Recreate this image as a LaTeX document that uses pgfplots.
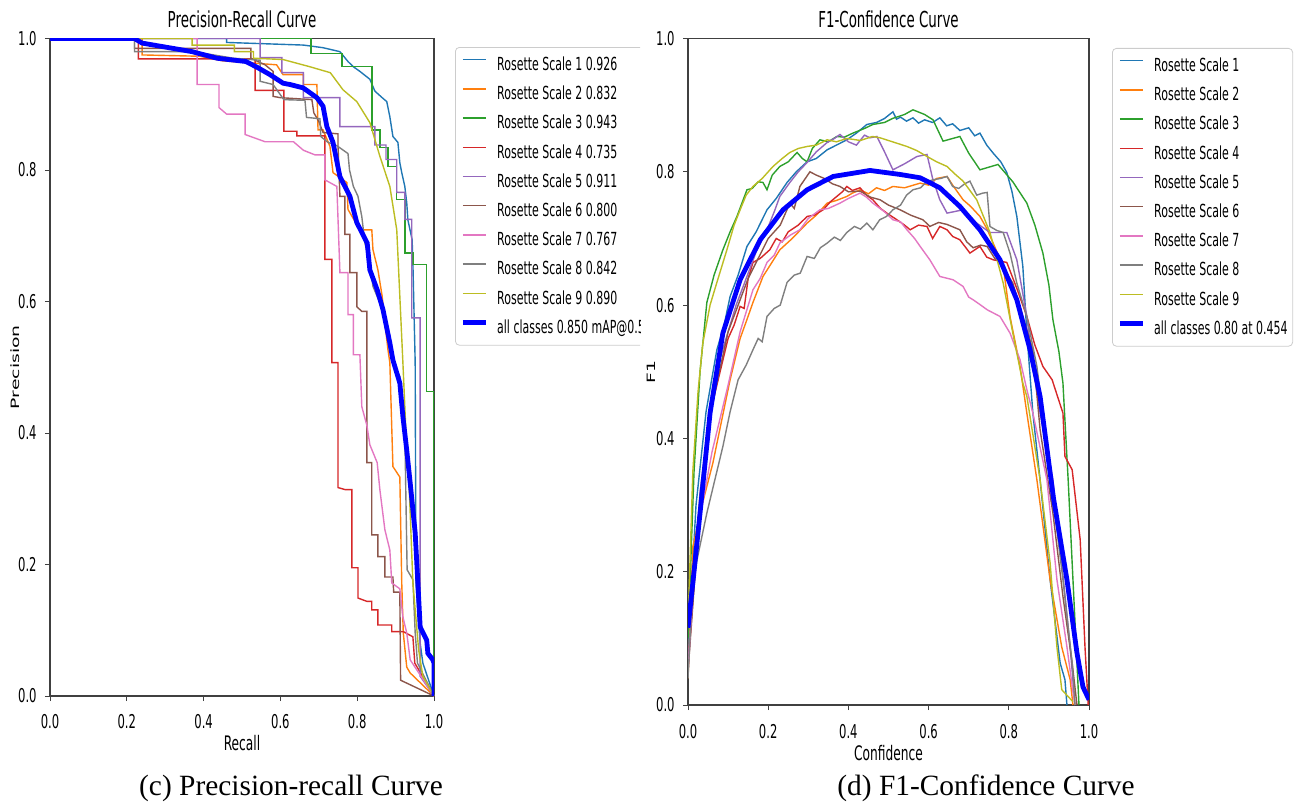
\documentclass[border=0pt]{standalone}
\usepackage{fontspec}
\setmainfont{Liberation Serif}
\newfontfamily\mpl{DejaVu Sans}[FakeStretch=0.61]
\newfontfamily\mplr{DejaVu Sans}
\usepackage{graphicx}
\usepackage{pgfplots}
\pgfplotsset{compat=1.18}
\definecolor{t1}{HTML}{1F77B4}
\definecolor{t2}{HTML}{FF7F0E}
\definecolor{t3}{HTML}{2CA02C}
\definecolor{t4}{HTML}{D62728}
\definecolor{t5}{HTML}{9467BD}
\definecolor{t6}{HTML}{8C564B}
\definecolor{t7}{HTML}{E377C2}
\definecolor{t8}{HTML}{7F7F7F}
\definecolor{t9}{HTML}{BCBD22}
\definecolor{allc}{RGB}{0,0,255}
\newcommand\tkf{\mpl\fontsize{9.5}{11}\selectfont}
\newcommand\ttlf{\mpl\fontsize{11}{13}\selectfont}
\newcommand\lblf{\mpl\fontsize{10}{12}\selectfont}
\newcommand\lgdf{\mpl\fontsize{9}{11}\selectfont}
\pgfplotsset{
  mplax/.style={
    scale only axis, xmin=0, xmax=1, ymin=0, ymax=1,
    xtick={0,0.2,0.4,0.6,0.8,1}, ytick={0,0.2,0.4,0.6,0.8,1},
    xtick pos=bottom, ytick pos=left,
    /pgf/number format/fixed, /pgf/number format/fixed zerofill,
    /pgf/number format/precision=1, /pgf/number format/assume math mode=true,
    tick label style={font=\tkf},
    yticklabel style={anchor=east, inner sep=0pt, xshift=-4pt},
    tick align=outside, major tick length=2.5pt,
    tick style={black!75, line width=0.5pt},
    axis line style={black!75, line width=0.6pt},
    every axis title shift=0pt,
    title style={font=\ttlf, at={(axis description cs:0.5,1)}, anchor=base, yshift=5.5pt},
    xlabel style={font=\lblf, at={(axis description cs:0.5,0)}, anchor=base},
    ylabel style={font=\mplr\fontsize{9.4}{11}\selectfont, anchor=base},
    legend cell align=left,
    legend style={font=\lgdf, draw=black!20, rounded corners=2pt, fill=white,
      inner xsep=2.5pt, inner ysep=4pt, row sep=5.1pt, /tikz/column sep=4.5pt,
      nodes={inner sep=0pt, text height=7.5pt, text depth=2pt}},
    legend image code/.code={\draw[##1] (0pt,2.6pt) -- (11.5pt,2.6pt);},
  },
  cls/.style={line width=0.7pt},
  allcls/.style={allc, line width=2.4pt},
}
\begin{document}
\begin{tikzpicture}
\useasboundingbox (0,0) rectangle (650.5pt,402.5pt);
\begin{scope}
\clip (0,0) rectangle (320pt,402.5pt);
\begin{axis}[mplax, at={(25pt,54.5pt)}, anchor=south west,
  width=192pt, height=328.75pt,
  title={Precision-Recall Curve},
  xlabel={Recall}, ylabel={\scalebox{1}[0.61]{Precision}},
  xticklabel style={anchor=base, yshift=-13.5pt},
  xlabel style={yshift=-27pt},
  ylabel style={at={([xshift=-15.25pt]axis description cs:0,0.5)}},
  legend style={at={(axis description cs:1,1)}, anchor=north west, xshift=10.5pt, yshift=-4.25pt}]
\addplot[t1, cls] coordinates {(0,1) (0.46,1) (0.46,0.994) (0.66,0.99) (0.711,0.986) (0.755,0.98) (0.776,0.965) (0.79,0.957) (0.807,0.95) (0.833,0.938) (0.846,0.92) (0.865,0.91) (0.877,0.904) (0.885,0.881) (0.893,0.851) (0.906,0.842) (0.911,0.811) (0.916,0.796) (0.924,0.775) (0.929,0.75) (0.932,0.724) (0.943,0.694) (0.945,0.659) (0.951,0.507) (0.953,0.172) (0.964,0.08) (0.971,0.05) (1,0)};
\addplot[t2, cls] coordinates {(0,1) (0.24,1) (0.24,0.975) (0.39,0.973) (0.45,0.966) (0.59,0.96) (0.607,0.945) (0.66,0.945) (0.66,0.93) (0.695,0.93) (0.698,0.861) (0.711,0.861) (0.729,0.836) (0.737,0.796) (0.773,0.781) (0.776,0.74) (0.807,0.709) (0.838,0.709) (0.841,0.679) (0.854,0.648) (0.865,0.608) (0.872,0.568) (0.88,0.527) (0.885,0.507) (0.893,0.349) (0.911,0.333) (0.916,0.172) (0.92,0.096) (0.929,0.044) (0.938,0.035) (1,0)};
\addplot[t3, cls] coordinates {(0,1) (0.68,1) (0.68,0.977) (0.76,0.977) (0.76,0.957) (0.839,0.957) (0.839,0.861) (0.859,0.861) (0.859,0.834) (0.88,0.834) (0.88,0.805) (0.903,0.805) (0.903,0.755) (0.924,0.755) (0.924,0.674) (0.945,0.674) (0.945,0.656) (0.98,0.656) (0.98,0.463) (1,0.463) (1,0)};
\addplot[t4, cls] coordinates {(0,1) (0.23,1) (0.23,0.969) (0.534,0.969) (0.534,0.921) (0.609,0.921) (0.609,0.859) (0.643,0.859) (0.643,0.852) (0.716,0.852) (0.716,0.664) (0.734,0.664) (0.734,0.507) (0.75,0.507) (0.75,0.317) (0.768,0.314) (0.786,0.314) (0.786,0.195) (0.802,0.195) (0.802,0.149) (0.825,0.144) (0.838,0.144) (0.838,0.131) (0.854,0.131) (0.854,0.108) (0.89,0.108) (0.89,0.098) (0.92,0.098) (0.945,0.09) (0.95,0.05) (1,0)};
\addplot[t5, cls] coordinates {(0,1) (0.547,1) (0.547,0.971) (0.604,0.971) (0.604,0.948) (0.66,0.948) (0.66,0.91) (0.755,0.91) (0.755,0.866) (0.846,0.866) (0.846,0.838) (0.875,0.838) (0.875,0.816) (0.903,0.816) (0.903,0.766) (0.924,0.766) (0.924,0.725) (0.942,0.725) (0.942,0.575) (0.964,0.575) (0.964,0.03) (1,0)};
\addplot[t6, cls] coordinates {(0,1) (0.22,1) (0.22,0.985) (0.523,0.985) (0.523,0.97) (0.56,0.96) (0.581,0.95) (0.581,0.912) (0.6,0.91) (0.682,0.907) (0.687,0.887) (0.7,0.874) (0.711,0.857) (0.75,0.855) (0.75,0.838) (0.755,0.76) (0.768,0.76) (0.768,0.702) (0.781,0.702) (0.781,0.644) (0.799,0.644) (0.799,0.592) (0.812,0.585) (0.825,0.585) (0.825,0.355) (0.838,0.355) (0.838,0.245) (0.854,0.245) (0.854,0.212) (0.872,0.212) (0.872,0.181) (0.893,0.181) (0.895,0.158) (0.911,0.158) (0.913,0.024) (1,0)};
\addplot[t7, cls] coordinates {(0,1) (0.383,1) (0.383,0.93) (0.44,0.93) (0.44,0.895) (0.46,0.885) (0.508,0.885) (0.508,0.854) (0.56,0.843) (0.634,0.843) (0.66,0.83) (0.69,0.823) (0.716,0.823) (0.716,0.785) (0.747,0.775) (0.755,0.644) (0.776,0.644) (0.776,0.58) (0.79,0.58) (0.79,0.519) (0.807,0.519) (0.812,0.44) (0.825,0.412) (0.833,0.382) (0.852,0.355) (0.859,0.314) (0.872,0.253) (0.885,0.222) (0.89,0.172) (0.911,0.163) (0.919,0.12) (0.929,0.096) (0.938,0.055) (1,0)};
\addplot[t8, cls] coordinates {(0,1) (0.22,1) (0.22,0.98) (0.375,0.98) (0.478,0.97) (0.547,0.967) (0.547,0.935) (0.581,0.93) (0.609,0.907) (0.664,0.906) (0.668,0.88) (0.703,0.878) (0.705,0.851) (0.724,0.842) (0.747,0.837) (0.776,0.825) (0.78,0.8) (0.79,0.775) (0.802,0.76) (0.812,0.729) (0.82,0.689) (0.833,0.659) (0.841,0.623) (0.859,0.598) (0.872,0.568) (0.885,0.542) (0.893,0.507) (0.911,0.486) (0.924,0.4) (0.93,0.192) (0.945,0.177) (0.951,0.096) (0.957,0.05) (1,0)};
\addplot[t9, cls] coordinates {(0,1) (0.37,1) (0.37,0.99) (0.48,0.99) (0.48,0.98) (0.53,0.98) (0.53,0.97) (0.607,0.968) (0.677,0.957) (0.73,0.948) (0.763,0.922) (0.799,0.904) (0.833,0.872) (0.859,0.821) (0.885,0.775) (0.903,0.709) (0.911,0.608) (0.919,0.507) (0.927,0.4) (0.935,0.324) (0.945,0.172) (0.96,0.07) (0.971,0.03) (1,0)};
\addplot[allcls] coordinates {(0,1) (0.22,1) (0.24,0.993) (0.37,0.98) (0.435,0.97) (0.51,0.965) (0.54,0.956) (0.573,0.945) (0.607,0.932) (0.625,0.93) (0.659,0.925) (0.695,0.91) (0.711,0.897) (0.721,0.866) (0.737,0.842) (0.755,0.79) (0.781,0.76) (0.799,0.72) (0.826,0.689) (0.833,0.648) (0.852,0.618) (0.867,0.588) (0.885,0.537) (0.893,0.511) (0.911,0.476) (0.919,0.425) (0.929,0.374) (0.938,0.324) (0.951,0.248) (0.958,0.172) (0.964,0.105) (0.981,0.085) (0.984,0.065) (0.997,0.055) (1,0.05) (1,0)};
\legend{Rosette Scale 1 0.926, Rosette Scale 2 0.832, Rosette Scale 3 0.943, Rosette Scale 4 0.735, Rosette Scale 5 0.911, Rosette Scale 6 0.800, Rosette Scale 7 0.767, Rosette Scale 8 0.842, Rosette Scale 9 0.890, all classes 0.850 mAP@0.5}
\end{axis}
\end{scope}
\begin{axis}[mplax, at={(344pt,50pt)}, anchor=south west,
  width=200.5pt, height=333.25pt,
  title={F1-Confidence Curve},
  xlabel={Confidence}, ylabel={\scalebox{1}[0.61]{F1}},
  xticklabel style={anchor=base, yshift=-14pt},
  xlabel style={yshift=-27.5pt},
  ylabel style={at={([xshift=-16.5pt]axis description cs:0,0.5)}},
  legend style={at={(axis description cs:1,1)}, anchor=north west, xshift=11.5pt, yshift=-4.75pt}]
\addplot[t1, cls] coordinates {(0,0.08) (0.02,0.3) (0.045,0.44) (0.072,0.533) (0.09,0.57) (0.105,0.613) (0.125,0.645) (0.147,0.688) (0.17,0.71) (0.197,0.743) (0.22,0.76) (0.247,0.784) (0.27,0.8) (0.297,0.815) (0.32,0.82) (0.347,0.833) (0.37,0.84) (0.396,0.848) (0.42,0.858) (0.446,0.871) (0.47,0.874) (0.49,0.88) (0.511,0.89) (0.52,0.879) (0.53,0.882) (0.545,0.876) (0.561,0.881) (0.575,0.873) (0.59,0.878) (0.61,0.874) (0.628,0.881) (0.645,0.869) (0.66,0.872) (0.678,0.862) (0.7,0.866) (0.715,0.854) (0.728,0.858) (0.745,0.84) (0.761,0.828) (0.78,0.815) (0.795,0.799) (0.808,0.77) (0.82,0.733) (0.835,0.658) (0.845,0.558) (0.86,0.438) (0.878,0.338) (0.903,0.188) (0.928,0.063) (0.94,0.038) (0.945,0)};
\addplot[t2, cls] coordinates {(0,0.04) (0.012,0.237) (0.035,0.3) (0.062,0.363) (0.085,0.43) (0.105,0.488) (0.13,0.55) (0.145,0.575) (0.162,0.604) (0.187,0.643) (0.205,0.66) (0.229,0.683) (0.26,0.7) (0.297,0.723) (0.32,0.735) (0.347,0.753) (0.37,0.757) (0.396,0.763) (0.41,0.768) (0.429,0.773) (0.45,0.767) (0.47,0.776) (0.49,0.772) (0.511,0.778) (0.54,0.776) (0.579,0.783) (0.6,0.78) (0.62,0.79) (0.646,0.793) (0.66,0.78) (0.686,0.758) (0.705,0.748) (0.728,0.733) (0.745,0.715) (0.761,0.693) (0.786,0.658) (0.803,0.583) (0.828,0.508) (0.845,0.438) (0.87,0.338) (0.903,0.188) (0.932,0.087) (0.953,0.038) (0.96,0)};
\addplot[t3, cls] coordinates {(0,0.1) (0.015,0.35) (0.03,0.5) (0.047,0.604) (0.065,0.645) (0.087,0.683) (0.105,0.71) (0.122,0.733) (0.147,0.773) (0.16,0.775) (0.175,0.785) (0.187,0.784) (0.197,0.773) (0.21,0.795) (0.229,0.808) (0.25,0.815) (0.272,0.829) (0.285,0.82) (0.297,0.815) (0.31,0.835) (0.329,0.848) (0.35,0.845) (0.371,0.853) (0.39,0.852) (0.411,0.858) (0.44,0.865) (0.461,0.871) (0.49,0.874) (0.51,0.88) (0.54,0.886) (0.561,0.893) (0.59,0.886) (0.611,0.878) (0.636,0.846) (0.678,0.853) (0.7,0.828) (0.728,0.803) (0.773,0.811) (0.81,0.785) (0.845,0.753) (0.865,0.72) (0.885,0.678) (0.9,0.63) (0.91,0.578) (0.925,0.53) (0.935,0.483) (0.948,0.338) (0.96,0.188) (0.97,0.063) (0.975,0)};
\addplot[t4, cls] coordinates {(0,0.06) (0.03,0.3) (0.06,0.45) (0.08,0.5) (0.1,0.55) (0.115,0.57) (0.13,0.598) (0.14,0.595) (0.15,0.64) (0.162,0.664) (0.18,0.67) (0.204,0.683) (0.22,0.7) (0.235,0.695) (0.25,0.71) (0.275,0.72) (0.297,0.733) (0.315,0.735) (0.337,0.743) (0.355,0.755) (0.371,0.763) (0.385,0.77) (0.396,0.778) (0.41,0.772) (0.429,0.776) (0.445,0.765) (0.461,0.758) (0.48,0.745) (0.496,0.738) (0.521,0.728) (0.54,0.72) (0.554,0.713) (0.575,0.72) (0.596,0.718) (0.61,0.7) (0.628,0.718) (0.646,0.713) (0.66,0.703) (0.678,0.698) (0.703,0.678) (0.728,0.688) (0.745,0.672) (0.761,0.668) (0.795,0.664) (0.82,0.625) (0.845,0.583) (0.865,0.54) (0.885,0.508) (0.908,0.488) (0.935,0.438) (0.94,0.373) (0.958,0.353) (0.978,0.248) (0.99,0.087) (0.998,0)};
\addplot[t5, cls] coordinates {(0,0.06) (0.03,0.32) (0.06,0.46) (0.08,0.52) (0.1,0.56) (0.12,0.6) (0.147,0.643) (0.17,0.68) (0.197,0.713) (0.215,0.74) (0.229,0.763) (0.254,0.784) (0.275,0.8) (0.297,0.814) (0.32,0.83) (0.347,0.844) (0.365,0.85) (0.379,0.856) (0.4,0.845) (0.42,0.84) (0.44,0.855) (0.454,0.851) (0.471,0.853) (0.49,0.83) (0.511,0.803) (0.54,0.812) (0.571,0.823) (0.596,0.826) (0.61,0.79) (0.628,0.758) (0.646,0.738) (0.686,0.743) (0.72,0.723) (0.753,0.709) (0.795,0.709) (0.82,0.668) (0.845,0.583) (0.86,0.508) (0.878,0.438) (0.91,0.338) (0.932,0.213) (0.953,0.087) (0.965,0)};
\addplot[t6, cls] coordinates {(0,0.05) (0.03,0.3) (0.06,0.45) (0.1,0.56) (0.15,0.64) (0.2,0.7) (0.23,0.72) (0.254,0.753) (0.265,0.745) (0.279,0.778) (0.304,0.8) (0.32,0.795) (0.34,0.79) (0.36,0.782) (0.379,0.778) (0.4,0.77) (0.429,0.771) (0.455,0.762) (0.479,0.758) (0.5,0.75) (0.529,0.743) (0.555,0.735) (0.586,0.728) (0.603,0.718) (0.625,0.724) (0.646,0.721) (0.678,0.713) (0.695,0.695) (0.711,0.686) (0.73,0.69) (0.746,0.688) (0.765,0.67) (0.778,0.664) (0.81,0.633) (0.835,0.583) (0.86,0.533) (0.878,0.413) (0.91,0.288) (0.935,0.163) (0.958,0.063) (0.97,0)};
\addplot[t7, cls] coordinates {(0,0.05) (0.02,0.25) (0.06,0.38) (0.1,0.48) (0.13,0.56) (0.162,0.623) (0.18,0.64) (0.197,0.664) (0.215,0.675) (0.229,0.693) (0.255,0.705) (0.279,0.713) (0.3,0.73) (0.329,0.743) (0.35,0.745) (0.379,0.753) (0.4,0.76) (0.429,0.768) (0.445,0.762) (0.461,0.753) (0.49,0.74) (0.511,0.728) (0.53,0.725) (0.546,0.713) (0.565,0.7) (0.579,0.688) (0.603,0.668) (0.628,0.643) (0.661,0.638) (0.686,0.628) (0.7,0.612) (0.711,0.608) (0.73,0.6) (0.746,0.593) (0.778,0.583) (0.803,0.558) (0.828,0.518) (0.845,0.473) (0.86,0.438) (0.895,0.338) (0.92,0.188) (0.945,0.087) (0.96,0.02) (0.965,0)};
\addplot[t8, cls] coordinates {(0,0.04) (0.012,0.188) (0.047,0.288) (0.087,0.388) (0.105,0.44) (0.125,0.488) (0.145,0.51) (0.162,0.533) (0.175,0.55) (0.185,0.545) (0.197,0.583) (0.215,0.595) (0.23,0.6) (0.247,0.634) (0.265,0.645) (0.28,0.648) (0.297,0.673) (0.315,0.67) (0.33,0.686) (0.347,0.693) (0.365,0.702) (0.38,0.697) (0.396,0.709) (0.415,0.718) (0.43,0.714) (0.446,0.723) (0.461,0.713) (0.478,0.728) (0.495,0.733) (0.511,0.743) (0.53,0.75) (0.545,0.765) (0.561,0.773) (0.58,0.776) (0.595,0.785) (0.611,0.788) (0.63,0.79) (0.646,0.793) (0.66,0.778) (0.675,0.775) (0.69,0.782) (0.703,0.786) (0.72,0.765) (0.735,0.768) (0.746,0.769) (0.753,0.718) (0.77,0.712) (0.786,0.709) (0.803,0.678) (0.82,0.633) (0.845,0.583) (0.87,0.508) (0.885,0.438) (0.91,0.312) (0.935,0.188) (0.958,0.063) (0.965,0)};
\addplot[t9, cls] coordinates {(0,0.12) (0.012,0.35) (0.025,0.47) (0.037,0.543) (0.055,0.6) (0.072,0.634) (0.097,0.683) (0.115,0.72) (0.13,0.743) (0.145,0.765) (0.162,0.778) (0.185,0.79) (0.212,0.808) (0.235,0.82) (0.254,0.829) (0.275,0.835) (0.297,0.838) (0.32,0.84) (0.347,0.848) (0.37,0.845) (0.396,0.85) (0.43,0.847) (0.46,0.853) (0.479,0.851) (0.51,0.845) (0.546,0.838) (0.57,0.832) (0.596,0.823) (0.62,0.815) (0.646,0.808) (0.665,0.797) (0.686,0.786) (0.72,0.758) (0.753,0.709) (0.786,0.633) (0.81,0.558) (0.835,0.483) (0.845,0.463) (0.878,0.338) (0.903,0.213) (0.92,0.087) (0.932,0.023) (0.96,0.005)};
\addplot[allcls] coordinates {(0,0.116) (0.015,0.2) (0.03,0.288) (0.055,0.438) (0.087,0.558) (0.13,0.638) (0.18,0.698) (0.237,0.743) (0.297,0.773) (0.362,0.793) (0.454,0.802) (0.529,0.796) (0.579,0.791) (0.628,0.776) (0.678,0.748) (0.728,0.713) (0.778,0.668) (0.82,0.608) (0.853,0.533) (0.878,0.463) (0.911,0.312) (0.945,0.188) (0.97,0.078) (0.985,0.027) (1,0.008)};
\legend{Rosette Scale 1, Rosette Scale 2, Rosette Scale 3, Rosette Scale 4, Rosette Scale 5, Rosette Scale 6, Rosette Scale 7, Rosette Scale 8, Rosette Scale 9, all classes 0.80 at 0.454}
\end{axis}
\node[font=\fontsize{14.7}{18}\selectfont, anchor=base] at (145.5pt,5pt) {(c) Precision-recall Curve};
\node[font=\fontsize{14.7}{18}\selectfont, anchor=base] at (493pt,5pt) {(d) F1-Confidence Curve};
\end{tikzpicture}
\end{document}
